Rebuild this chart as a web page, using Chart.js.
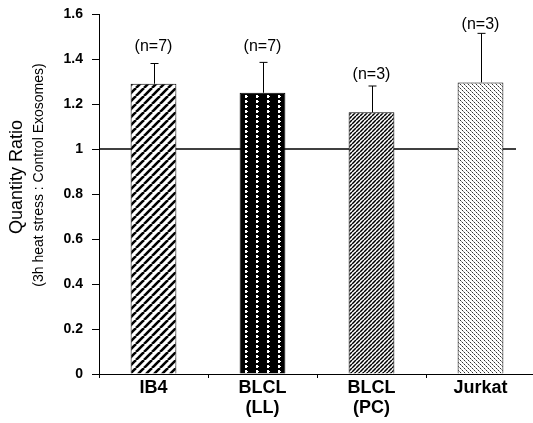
<!DOCTYPE html>
<html>
<head>
<meta charset="utf-8">
<script src="https://cdn.jsdelivr.net/npm/chart.js@4.4.1/dist/chart.umd.min.js"></script>
<style>
html,body{margin:0;padding:0;background:#fff;overflow:hidden;}
#wrap{width:535px;height:423px;}
</style>
</head>
<body>
<div id="wrap"><canvas id="c" width="535" height="423"></canvas></div>
<script>
const categories = [["IB4"], ["BLCL", "(LL)"], ["BLCL", "(PC)"], ["Jurkat"]];
const ratios = [1.29, 1.25, 1.163, 1.296];
const errors = [0.09, 0.135, 0.117, 0.218];
const nLabels = ["(n=7)", "(n=7)", "(n=3)", "(n=3)"];
const nLabelAt = [1.453, 1.453, 1.329, 1.551];
const yTicks = [0, 0.2, 0.4, 0.6, 0.8, 1, 1.2, 1.4, 1.6];
const refValue = 1;

function tile(w, h, draw) {
  const c = document.createElement('canvas');
  c.width = w; c.height = h;
  const g = c.getContext('2d');
  draw(g, w, h);
  return g.createPattern(c, 'repeat');
}
const patIB4 = tile(8, 8, (g, w, h) => {
  g.fillStyle = '#fff'; g.fillRect(0, 0, w, h);
  g.strokeStyle = '#000'; g.lineWidth = 2.6;
  for (let k = -1; k <= 1; k++) {
    g.beginPath(); g.moveTo(k * w, h); g.lineTo(k * w + w, 0); g.stroke();
  }
});
const patLL = tile(11, 5, (g, w, h) => {
  g.fillStyle = '#000'; g.fillRect(0, 0, w, h);
  g.fillStyle = '#fff'; g.fillRect(3, 0, 2, 3); g.fillRect(5, 1, 1, 1);
});
const patPC = tile(4, 4, (g, w, h) => {
  g.fillStyle = '#fff'; g.fillRect(0, 0, w, h);
  g.strokeStyle = '#000'; g.lineWidth = 1.5;
  for (let k = -1; k <= 1; k++) {
    g.beginPath(); g.moveTo(k * w, h); g.lineTo(k * w + w, 0); g.stroke();
  }
});
const patJ = tile(4, 4, (g, w, h) => {
  g.fillStyle = '#fff'; g.fillRect(0, 0, w, h);
  g.fillStyle = '#333'; g.fillRect(0, 0, 1, 1); g.fillRect(2, 2, 1, 1);
  g.fillStyle = '#999'; g.fillRect(1, 1, 1, 1); g.fillRect(3, 3, 1, 1);
});
const patterns = [patIB4, patLL, patPC, patJ];

const decor = {
  id: 'decor',
  beforeDatasetsDraw(chart) {
    const {ctx, chartArea, scales} = chart;
    const y = scales.y.getPixelForValue(refValue);
    ctx.save();
    ctx.strokeStyle = '#000'; ctx.lineWidth = 1.6;
    ctx.beginPath(); ctx.moveTo(chartArea.left, y); ctx.lineTo(516, y); ctx.stroke();
    ctx.restore();
  },
  afterDatasetsDraw(chart) {
    const {ctx, scales} = chart;
    const meta = chart.getDatasetMeta(0);
    ctx.save();
    ctx.strokeStyle = '#000'; ctx.lineWidth = 1;
    ctx.fillStyle = '#000';
    ctx.font = '16px "Liberation Sans", Arial, sans-serif';
    ctx.textAlign = 'center'; ctx.textBaseline = 'middle';
    meta.data.forEach((bar, i) => {
      const x = Math.round(bar.x) + 0.5;
      const yTop = scales.y.getPixelForValue(ratios[i]);
      const yErr = scales.y.getPixelForValue(ratios[i] + errors[i]);
      ctx.beginPath();
      ctx.moveTo(x, yTop); ctx.lineTo(x, yErr);
      ctx.moveTo(x - 4, yErr); ctx.lineTo(x + 4, yErr);
      ctx.stroke();
      ctx.fillText(nLabels[i], bar.x, scales.y.getPixelForValue(nLabelAt[i]));
    });
    ctx.save();
    ctx.translate(17, 177); ctx.rotate(-Math.PI / 2);
    ctx.font = '18px "Liberation Sans", Arial, sans-serif';
    ctx.fillText('Quantity Ratio', 0, 0);
    ctx.restore();
    ctx.save();
    ctx.translate(39, 175); ctx.rotate(-Math.PI / 2);
    ctx.font = '14px "Liberation Sans", Arial, sans-serif';
    ctx.fillText('(3h heat stress : Control Exosomes)', 0, 0);
    ctx.restore();
    ctx.restore();
  }
};

new Chart(document.getElementById('c'), {
  type: 'bar',
  data: {
    labels: categories,
    datasets: [{
      data: ratios,
      backgroundColor: patterns,
      borderColor: '#000',
      borderWidth: 1,
      borderSkipped: 'bottom',
      barPercentage: 0.84,
      categoryPercentage: 0.5
    }]
  },
  options: {
    responsive: false,
    animation: false,
    layout: {padding: {top: 14, left: 0, right: 0, bottom: 0}},
    plugins: {legend: {display: false}, tooltip: {enabled: false}},
    scales: {
      x: {
        grid: {drawOnChartArea: false, drawTicks: true, tickLength: 4, color: '#000', offset: true},
        border: {display: true, color: '#000', width: 1},
        ticks: {
          color: '#000', padding: 0, maxRotation: 0, autoSkip: false,
          font: {family: '"Liberation Sans", Arial, sans-serif', weight: 'bold', size: 18, lineHeight: 1.1}
        },
        afterFit(s) { s.height = 49; s.paddingLeft = 0; s.paddingRight = 0; }
      },
      y: {
        min: 0, max: 1.6,
        afterBuildTicks(s) { s.ticks = yTicks.map(v => ({value: v})); },
        grid: {drawOnChartArea: false, drawTicks: true, tickLength: 7, color: '#000'},
        border: {display: true, color: '#000', width: 1},
        ticks: {
          color: '#000', padding: 9,
          font: {family: '"Liberation Sans", Arial, sans-serif', weight: 'bold', size: 14},
          callback: (v) => String(v)
        },
        afterFit(s) { s.width = 99; s.paddingTop = 0; s.paddingBottom = 0; }
      }
    }
  },
  plugins: [decor]
});
</script>
</body>
</html>
